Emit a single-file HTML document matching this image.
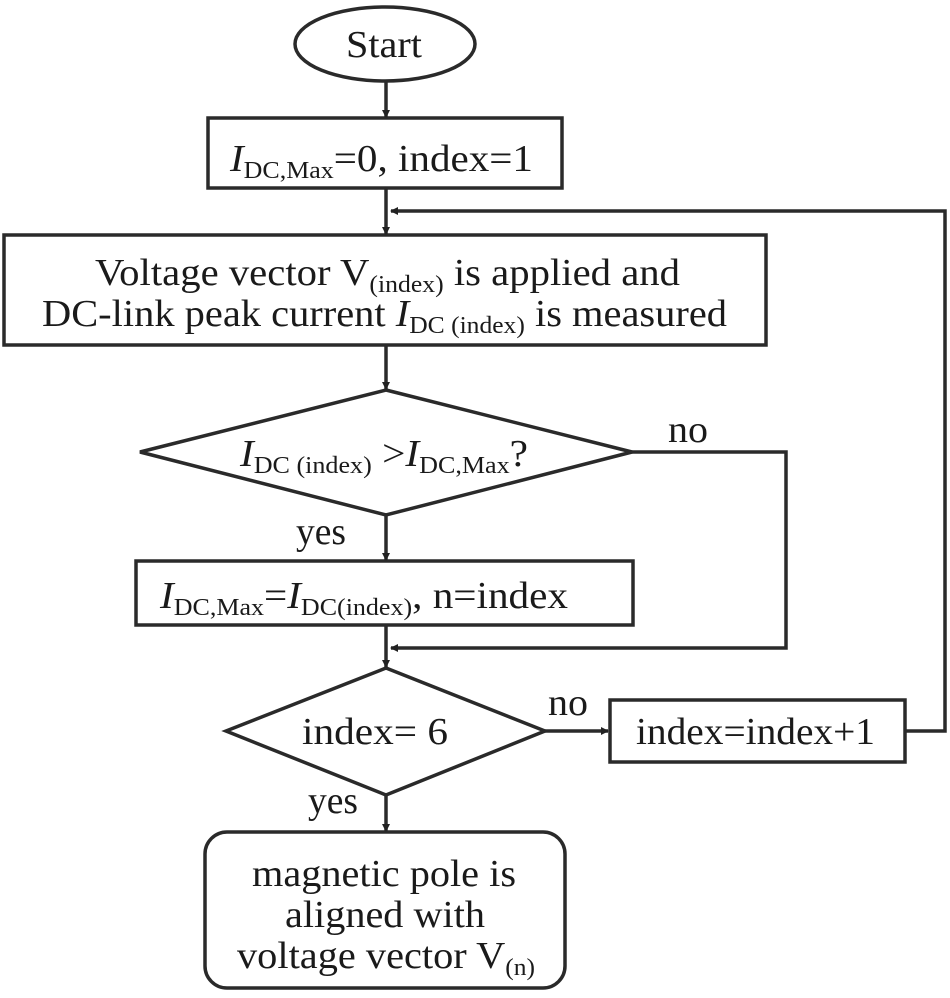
<!DOCTYPE html>
<html><head><meta charset="utf-8"><style>
html,body{margin:0;padding:0;background:#fff;}
svg{display:block}
text{font-family:"Liberation Serif","Times New Roman","DejaVu Serif",serif;fill:#1a1a1a;}
</style></head><body>
<svg width="950" height="998" viewBox="0 0 950 998" xmlns="http://www.w3.org/2000/svg">
<defs><marker id="a" markerWidth="8" markerHeight="8" refX="7" refY="4" orient="auto" markerUnits="userSpaceOnUse"><path d="M0,0 L8,4 L0,8 z" fill="#222"/></marker></defs>
<g stroke="#2a2a2a" stroke-width="3.5" fill="none">
<ellipse cx="385" cy="44" rx="90" ry="37"/>
<rect x="208" y="118" width="354" height="70"/>
<rect x="4" y="235" width="762" height="110"/>
<polygon points="386,390 632,452 386,515 140,452"/>
<rect x="136" y="561" width="497" height="64"/>
<polygon points="386,668 545,731 386,795 226,731"/>
<rect x="610" y="700" width="295" height="62"/>
<rect x="205" y="832" width="360" height="156" rx="22"/>
</g>
<g stroke="#2a2a2a" stroke-width="3.5" fill="none" marker-end="url(#a)">
<line x1="386" y1="81" x2="386" y2="117"/>
<line x1="386" y1="188" x2="386" y2="234"/>
<polyline points="905,731 945,731 945,211 391,211"/>
<line x1="386" y1="345" x2="386" y2="389"/>
<line x1="386" y1="515" x2="386" y2="560"/>
<polyline points="632,452 786,452 786,648 391,648"/>
<line x1="386" y1="625" x2="386" y2="667"/>
<line x1="545" y1="731" x2="608" y2="731"/>
<line x1="386" y1="795" x2="386" y2="831"/>
</g>
<g font-size="38">
<text x="346" y="57" textLength="76" lengthAdjust="spacingAndGlyphs">Start</text>
<text x="230" y="171" textLength="303" lengthAdjust="spacingAndGlyphs"><tspan font-style="italic">I</tspan><tspan font-size="24" dy="7">DC,Max</tspan><tspan dy="-7">=0, index=1</tspan></text>
<text x="95" y="285" textLength="585" lengthAdjust="spacingAndGlyphs">Voltage vector V<tspan font-size="24" dy="7">(index)</tspan><tspan dy="-7"> is applied and</tspan></text>
<text x="42" y="326" textLength="685" lengthAdjust="spacingAndGlyphs">DC-link peak current <tspan font-style="italic">I</tspan><tspan font-size="24" dy="7">DC (index)</tspan><tspan dy="-7"> is measured</tspan></text>
<text x="240" y="466" textLength="288" lengthAdjust="spacingAndGlyphs"><tspan font-style="italic">I</tspan><tspan font-size="24" dy="7">DC (index)</tspan><tspan dy="-7"> &gt;</tspan><tspan font-style="italic">I</tspan><tspan font-size="24" dy="7">DC,Max</tspan><tspan dy="-7">?</tspan></text>
<text x="668" y="442" textLength="40" lengthAdjust="spacingAndGlyphs">no</text>
<text x="296" y="544" textLength="50" lengthAdjust="spacingAndGlyphs">yes</text>
<text x="160" y="608" textLength="408" lengthAdjust="spacingAndGlyphs"><tspan font-style="italic">I</tspan><tspan font-size="24" dy="7">DC,Max</tspan><tspan dy="-7">=</tspan><tspan font-style="italic">I</tspan><tspan font-size="24" dy="7">DC(index)</tspan><tspan dy="-7">, n=index</tspan></text>
<text x="302" y="744" textLength="146" lengthAdjust="spacingAndGlyphs">index= 6</text>
<text x="548" y="715" textLength="40" lengthAdjust="spacingAndGlyphs">no</text>
<text x="636" y="744" textLength="239" lengthAdjust="spacingAndGlyphs">index=index+1</text>
<text x="308" y="813" textLength="50" lengthAdjust="spacingAndGlyphs">yes</text>
<text x="252" y="886" textLength="264" lengthAdjust="spacingAndGlyphs">magnetic pole is</text>
<text x="285" y="927" textLength="200" lengthAdjust="spacingAndGlyphs">aligned with</text>
<text x="237" y="968" textLength="298" lengthAdjust="spacingAndGlyphs">voltage vector V<tspan font-size="24" dy="7">(n)</tspan></text>
</g>
</svg>
</body></html>
